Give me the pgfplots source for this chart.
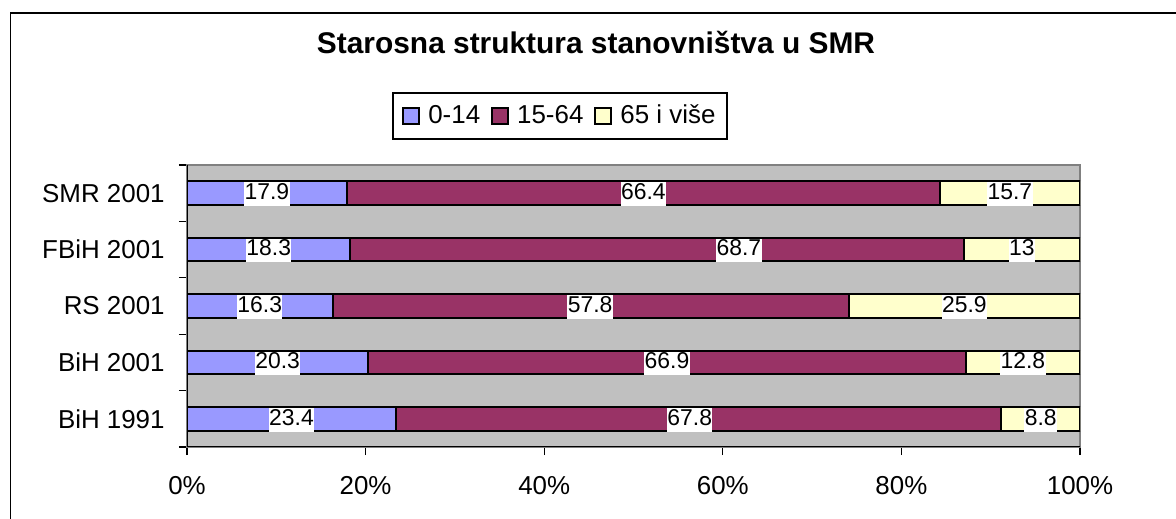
\documentclass[border=0pt]{standalone}
\usepackage{fontspec}
\setmainfont{Liberation Sans}
\usepackage{pgfplots}
\usepackage{pgfplotstable}
\pgfplotsset{compat=1.18}
\definecolor{cA}{HTML}{9999FF}
\definecolor{cB}{HTML}{993366}
\definecolor{cC}{HTML}{FFFFCC}
\definecolor{pgray}{HTML}{C0C0C0}
\definecolor{bgray}{HTML}{808080}

% y: 0 = BiH 1991, 1 = BiH 2001, 2 = RS 2001, 3 = FBiH 2001, 4 = SMR 2001
\pgfplotstableread{
x y
23.4 0
20.3 1
16.3 2
18.3 3
17.9 4
}\ageA
\pgfplotstableread{
x y
67.8 0
66.9 1
57.8 2
68.7 3
66.4 4
}\ageB
\pgfplotstableread{
x y
8.8 0
12.8 1
25.9 2
13 3
15.7 4
}\ageC
\pgfplotstableread{
x y label
11.7 0 23.4
56.3 0 67.8
95.6 0 8.8
10.15 1 20.3
53.75 1 66.9
93.6 1 12.8
8.15 2 16.3
45.15 2 57.8
87.05 2 25.9
9.15 3 18.3
61.8 3 68.7
93.5 3 13
8.95 4 17.9
51.1 4 66.4
92.15 4 15.7
}\labels

\begin{document}
\begin{tikzpicture}
\useasboundingbox (0,0) rectangle (588bp,259.5bp);
\draw[black, line width=0.8bp] (5.25bp,0) -- (5.25bp,253bp) -- (588bp,253bp);
\node[font=\fontsize{15}{18}\selectfont\bfseries] at (298bp,238.5bp) {Starosna struktura stanovništva u SMR};

\begin{axis}[
  at={(93.5bp,36bp)}, anchor=south west, scale only axis,
  width=446.5bp, height=141bp,
  xbar stacked, bar width=0.42,
  xmin=0, xmax=100, ymin=-0.5, ymax=4.5,
  axis background/.style={fill=pgray},
  axis line style={draw=bgray, line width=0.8bp},
  xtick={0,20,40,60,80,100},
  xticklabels={0\%,20\%,40\%,60\%,80\%,100\%},
  ytick={-0.5,0.5,1.5,2.5,3.5,4.5},
  yticklabels={BiH 1991, BiH 2001, RS 2001, {FBiH 2001\hspace{3.5bp}}, SMR 2001, {}},
  tick align=outside, tick pos=left, major tick length=4bp,
  tick style={black, line width=0.6bp},
  ticklabel style={font=\fontsize{13}{15}\selectfont},
  xticklabel style={inner sep=0pt, anchor=north, yshift=-10.5bp},
  yticklabel style={inner sep=0pt, anchor=east, xshift=-7bp, yshift=14.1bp},
  legend style={at={(0.4177,1.1738)}, anchor=center, draw=black, line width=0.6bp,
    font=\fontsize{13}{15}\selectfont, legend columns=3,
    inner xsep=2.5bp, inner ysep=4.5bp,
    nodes={inner xsep=3.3bp, inner ysep=1.5bp},
    /tikz/every even column/.append style={column sep=0bp},
    /tikz/every odd column/.append style={column sep=1bp}},
  legend image code/.code={\path (0bp,0bp); \draw[#1, draw=black, line width=0.8bp] (2bp,-4bp) rectangle (10bp,4bp);},
  legend cell align=left,
]
\addplot[fill=cA, draw=black, line width=1bp] table[x=x,y=y] {\ageA};
\addplot[fill=cB, draw=black, line width=1bp] table[x=x,y=y] {\ageB};
\addplot[fill=cC, draw=black, line width=1bp] table[x=x,y=y] {\ageC};
\legend{0-14, 15-64, 65 i više}
\draw[black, line width=0.8bp] (rel axis cs:0,1) -- (rel axis cs:0,0) -- (rel axis cs:1,0);
\end{axis}

\begin{axis}[
  at={(93.5bp,36bp)}, anchor=south west, scale only axis,
  width=446.5bp, height=141bp,
  xmin=0, xmax=100, ymin=-0.5, ymax=4.5,
  hide axis, clip=false,
]
\addplot[draw=none, mark=none, nodes near coords, point meta=explicit symbolic,
  every node near coord/.append style={anchor=center, fill=white, inner xsep=0.2bp, inner ysep=1.2bp,
    text height=0.74em, text depth=0.2em, font=\fontsize{11.5}{13}\selectfont, yshift=-0.5bp}]
  table[x=x, y=y, meta=label] {\labels};
\end{axis}
\end{tikzpicture}
\end{document}
